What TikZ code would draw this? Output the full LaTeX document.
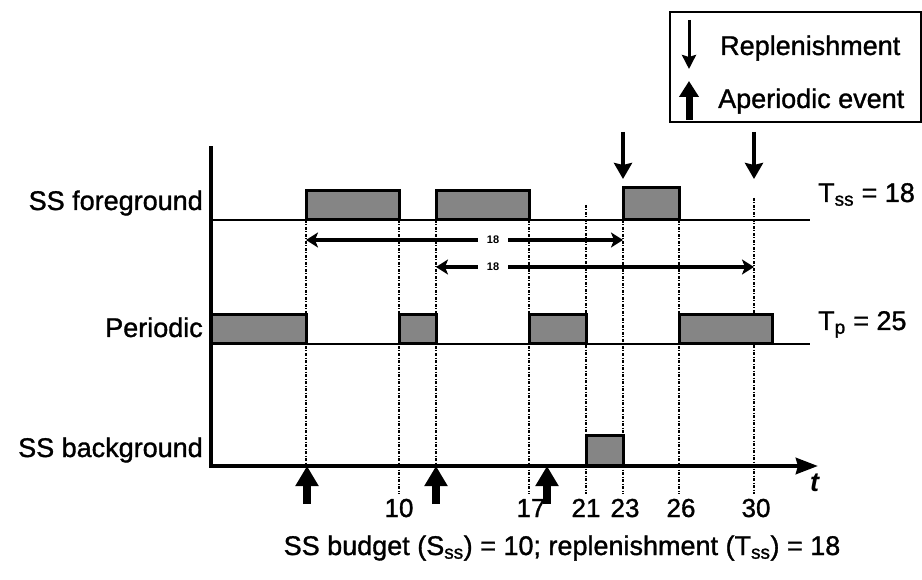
\documentclass[tikz,border=0pt]{standalone}
\usepackage{fontspec}
\setmainfont{Liberation Sans}
\newfontfamily\heavy[FakeBold=1.2]{Liberation Sans}
\usetikzlibrary{arrows.meta}
\begin{document}
\begin{tikzpicture}[x=1pt,y=-1pt,
  lbl/.style={font=\heavy\fontsize{27}{30}\selectfont, inner sep=0pt},
  num/.style={font=\heavy\fontsize{26}{28}\selectfont, inner sep=0pt, anchor=base},
  small/.style={font=\fontsize{11}{13}\selectfont\bfseries, inner xsep=9pt, inner ysep=0pt},
  job/.style={draw=black, line width=3pt, fill=black!48},
  base/.style={line width=2pt},
  axis/.style={line width=4.5pt},
  guide/.style={line width=1.4pt, dash pattern=on 3pt off 1.5pt on 1pt off 1.5pt},
  span/.style={line width=3.5pt, -{Stealth[length=12pt,width=15pt,inset=3pt]}},
  repl/.style={line width=3.5pt, -{Stealth[length=16pt,width=18pt,inset=2pt]}},
  aper/.style={line width=8pt, -{Triangle[length=20pt,width=22pt]}},
]
\path[use as bounding box] (0,0) rectangle (922,580);

% axes
\coordinate (origin) at (211,466);
\coordinate (ytop) at (211,148);
\coordinate (xend) at (818,466);
\draw[axis, line cap=rect] (ytop) -- (origin);
\draw[axis, -{Stealth[length=22pt,width=16pt,inset=2pt]}] (origin) -- (xend);
\node[inner sep=0pt, anchor=base west, font=\fontsize{27}{30}\selectfont\bfseries\itshape] (tlab) at (810,491) {t};

% baselines
\coordinate (fgL) at (211,220);
\coordinate (fgR) at (810,220);
\coordinate (pL) at (211,344);
\coordinate (pR) at (810,344);
\draw[base] (fgL) -- (fgR);
\draw[base] (pL) -- (pR);

% guide lines
\draw[guide] (306,220) -- (306,466);
\draw[guide] (399,220) -- (399,494);
\draw[guide] (436,220) -- (436,466);
\draw[guide] (529,220) -- (529,494);
\draw[guide] (586,205) -- (586,494);
\draw[guide] (623,220) -- (623,494);
\draw[guide] (679,220) -- (679,494);
\draw[guide] (754,198) -- (754,494);

% SS foreground jobs
\draw[job] (306,220) rectangle (399,191);
\draw[job] (436,220) rectangle (529,191);
\draw[job] (623,220) rectangle (679,188);
% Periodic jobs
\draw[job] (211,344) rectangle (306,315);
\draw[job] (399,344) rectangle (436,315);
\draw[job] (529,344) rectangle (586,315);
\draw[job] (679,344) rectangle (772,315);
% SS background job
\draw[job] (586,465) rectangle (623,435);

% 18 spans
\node[small] (s1) at (493,240) {18};
\coordinate (s1a) at (306,240);
\coordinate (s1b) at (623,240);
\draw[span] (s1.west) -- (s1a);
\draw[span] (s1.east) -- (s1b);
\node[small] (s2) at (493,267) {18};
\coordinate (s2a) at (436,267);
\coordinate (s2b) at (754,267);
\draw[span] (s2.west) -- (s2a);
\draw[span] (s2.east) -- (s2b);

% replenishment arrows
\coordinate (r1t) at (623,132);
\coordinate (r1b) at (623,179);
\coordinate (r2t) at (754,132);
\coordinate (r2b) at (754,179);
\draw[repl] (r1t) -- (r1b);
\draw[repl] (r2t) -- (r2b);

% aperiodic event arrows
\coordinate (a1b) at (307,504);
\coordinate (a1t) at (307,466);
\coordinate (a2b) at (436,504);
\coordinate (a2t) at (436,466);
\coordinate (a3b) at (547,504);
\coordinate (a3t) at (547,466);
\draw[aper] (a1b) -- (a1t);
\draw[aper] (a2b) -- (a2t);
\draw[aper] (a3b) -- (a3t);

% row labels
\node[lbl, anchor=base east] (fg) at (203,210) {SS foreground};
\node[lbl, anchor=base east] (per) at (203,337) {Periodic};
\node[lbl, anchor=base east] (bg) at (203,457) {SS background};
\node[lbl, anchor=base west] (tss) at (818,202) {T\textsubscript{ss} = 18};
\node[lbl, anchor=base west] (tp) at (818,330) {T\textsubscript{p} = 25};

% time labels
\node[num] (n10) at (399,517) {10};
\node[num] (n17) at (531,517) {17};
\node[num] (n21) at (586,517) {21};
\node[num] (n23) at (625,517) {23};
\node[num] (n26) at (681,517) {26};
\node[num] (n30) at (756,517) {30};

% caption
\node[lbl, anchor=base] (cap) at (562,555) {SS budget (S\textsubscript{ss}) = 10; replenishment (T\textsubscript{ss}) = 18};

% legend
\draw[line width=1.4pt] (670,12) rectangle (921,122);
\coordinate (lr1) at (689,20);
\coordinate (lr2) at (689,69);
\draw[line width=3pt, -{Stealth[length=14pt,width=14pt,inset=2pt]}] (lr1) -- (lr2);
\coordinate (la1) at (689,120);
\coordinate (la2) at (689,81);
\draw[line width=7pt, -{Triangle[length=16pt,width=19pt]}] (la1) -- (la2);
\node[lbl, anchor=base west] (legR) at (720,55) {Replenishment};
\node[lbl, anchor=base west] (legA) at (718,108) {Aperiodic event};
\end{tikzpicture}
\end{document}
